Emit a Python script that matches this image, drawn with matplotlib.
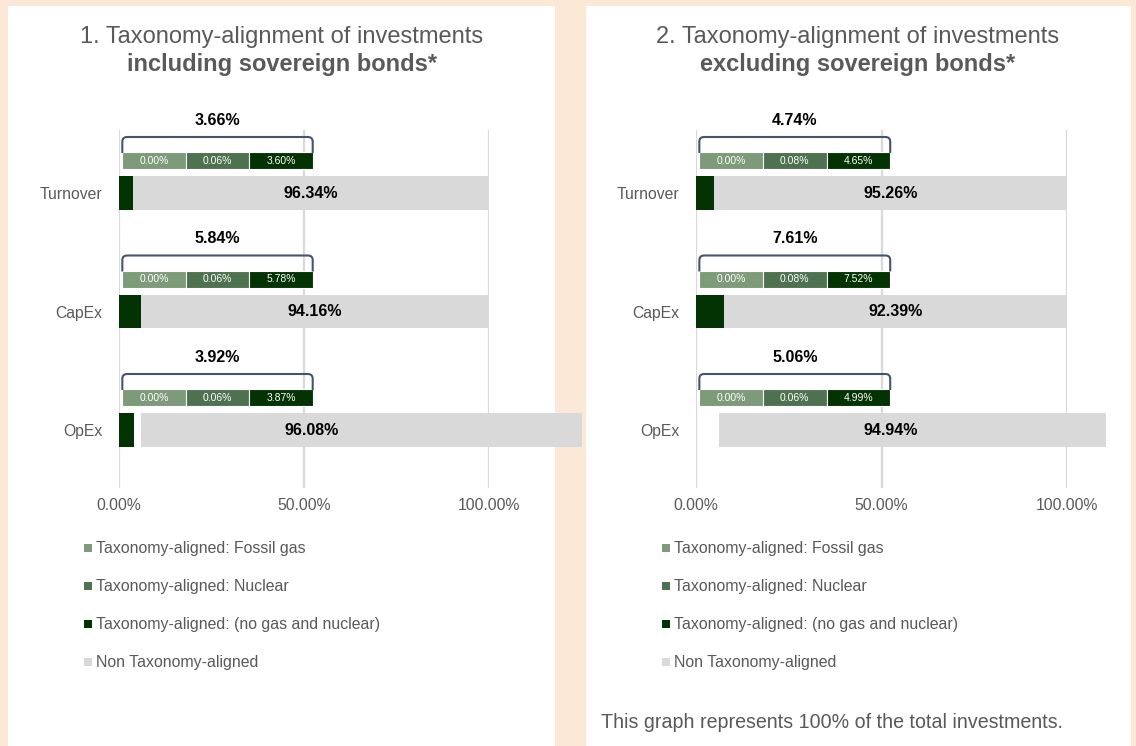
import matplotlib
matplotlib.use("Agg")
import matplotlib.pyplot as plt
from matplotlib.patches import Rectangle, PathPatch
from matplotlib.path import Path

plt.rcParams['font.family'] = ['Liberation Sans', 'DejaVu Sans']

# data
categories = ['Turnover', 'CapEx', 'OpEx']
series_names = ['Taxonomy-aligned: Fossil gas', 'Taxonomy-aligned: Nuclear',
                'Taxonomy-aligned: (no gas and nuclear)', 'Non Taxonomy-aligned']

# chart 1: including sovereign bonds
gas_1 = [0.00, 0.00, 0.00]
nuclear_1 = [0.06, 0.06, 0.06]
other_1 = [3.60, 5.78, 3.87]
aligned_1 = [3.66, 5.84, 3.92]
non_aligned_1 = [96.34, 94.16, 96.08]
# grey bars as they are actually drawn in the picture (start, end)
grey_start_1 = [3.66, 5.84, 5.9]
grey_end_1 = [100.0, 100.0, 125.1]

# chart 2: excluding sovereign bonds
gas_2 = [0.00, 0.00, 0.00]
nuclear_2 = [0.08, 0.08, 0.06]
other_2 = [4.65, 7.52, 4.99]
aligned_2 = [4.74, 7.61, 5.06]
non_aligned_2 = [95.26, 92.39, 94.94]
grey_start_2 = [4.74, 7.61, 6.2]
grey_end_2 = [100.0, 100.0, 110.5]
dark_shown_2 = [True, True, False]

colors = ['#7D9A79', '#4E7150', '#033303', '#D9D9D9']
text_grey = '#595959'
bracket_col = '#44546A'

W, H = 1136, 746
fig = plt.figure(figsize=(W / 100, H / 100), dpi=100)
fig.patch.set_facecolor('#FBE8D7')

# white panels
for x0, x1 in [(8, 555), (586, 1131)]:
    fig.patches.append(Rectangle((x0 / W, 0), (x1 - x0) / W, 1 - 6 / H,
                                 transform=fig.transFigure, facecolor='white',
                                 edgecolor='none', zorder=-10))


def px_axes(x0, y0, x1, y1):
    return fig.add_axes([x0 / W, 1 - y1 / H, (x1 - x0) / W, (y1 - y0) / H])


def draw_chart(ax, gas, nuc, oth, aligned, non, gstart, gend, dark_shown):
    ax.set_xlim(0, 100)
    ax.set_ylim(2.489, -0.532)
    ax.patch.set_alpha(0)
    for s in ax.spines.values():
        s.set_visible(False)
    ax.set_axisbelow(True)
    ax.grid(axis='x', color='#D9D9D9', linewidth=1.6)
    ax.set_xticks([0, 50, 100])
    ax.set_xticklabels(['0.00%', '50.00%', '100.00%'])
    ax.set_yticks(range(len(categories)))
    ax.set_yticklabels(categories)
    ax.tick_params(length=0, labelsize=11.3, labelcolor=text_grey)
    ax.tick_params(axis='x', pad=7)
    ax.tick_params(axis='y', pad=12)

    seg_start, seg_w = 0.9, 17.15
    for i in range(len(categories)):
        # main bars
        if dark_shown[i]:
            ax.barh(i, aligned[i], height=0.28, color=colors[2], left=0)
        ax.barh(i, gend[i] - gstart[i], height=0.28, left=gstart[i],
                color=colors[3], clip_on=False)
        ax.text(aligned[i] + non[i] / 2, i, f'{non[i]:.2f}%', ha='center',
                va='center', fontsize=11.5, fontweight='bold', color='black')
        # small breakdown bar
        yc = i - 0.274
        for k, v in enumerate([gas[i], nuc[i], oth[i]]):
            ax.barh(yc, seg_w, height=0.143, left=seg_start + k * seg_w,
                    color=colors[k], edgecolor='white', linewidth=0.8)
            ax.text(seg_start + (k + 0.5) * seg_w, yc, f'{v:.2f}%', ha='center',
                    va='center', fontsize=7.5, color='white')
        # bracket
        x0, x1 = seg_start, seg_start + 3 * seg_w
        yt, yb = i - 0.473, i - 0.338
        rx, ry = 1.3, 0.04
        verts = [(x0, yb), (x0, yt + ry), (x0, yt), (x0 + rx, yt),
                 (x1 - rx, yt), (x1, yt), (x1, yt + ry), (x1, yb)]
        codes = [Path.MOVETO, Path.LINETO, Path.CURVE3, Path.CURVE3,
                 Path.LINETO, Path.CURVE3, Path.CURVE3, Path.LINETO]
        ax.add_patch(PathPatch(Path(verts, codes), fill=False,
                               edgecolor=bracket_col, linewidth=1.5))
        ax.text((x0 + x1) / 2, i - 0.616, f'{aligned[i]:.2f}%', ha='center',
                va='center', fontsize=11.5, fontweight='bold', color='black')


ax1 = px_axes(119, 130, 489, 488)
draw_chart(ax1, gas_1, nuclear_1, other_1, aligned_1, non_aligned_1,
           grey_start_1, grey_end_1, [True, True, True])
ax2 = px_axes(696, 130, 1067, 488)
draw_chart(ax2, gas_2, nuclear_2, other_2, aligned_2, non_aligned_2,
           grey_start_2, grey_end_2, dark_shown_2)


def ftext(x, y, s, **kw):
    fig.text(x / W, 1 - y / H, s, **kw)


ftext(282, 37, '1. Taxonomy-alignment of investments', ha='center', va='center',
      fontsize=17, color=text_grey)
ftext(282, 64, 'including sovereign bonds*', ha='center', va='center',
      fontsize=17, fontweight='bold', color=text_grey)
ftext(858, 37, '2. Taxonomy-alignment of investments', ha='center', va='center',
      fontsize=17, color=text_grey)
ftext(858, 64, 'excluding sovereign bonds*', ha='center', va='center',
      fontsize=17, fontweight='bold', color=text_grey)

# legends
for lx in [88, 666]:
    for k, name in enumerate(series_names):
        ly = 548 + k * 38
        fig.patches.append(Rectangle(((lx - 4) / W, 1 - (ly + 4) / H), 8 / W, 8 / H,
                                     transform=fig.transFigure,
                                     facecolor=colors[k], edgecolor='none'))
        ftext(lx + 8, ly, name, ha='left', va='center', fontsize=11.4,
              color=text_grey)

ftext(601, 722, 'This graph represents 100% of the total investments.',
      ha='left', va='center', fontsize=14.1, color=text_grey)

fig.savefig('out.png', dpi=100, facecolor=fig.get_facecolor())
